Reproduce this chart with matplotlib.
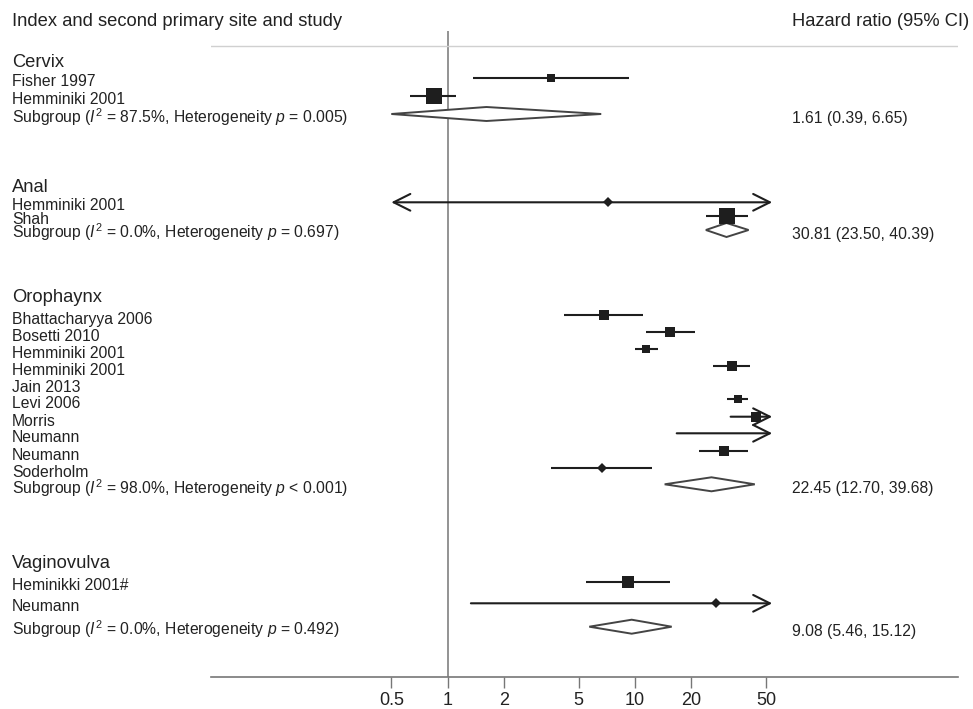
#!/usr/bin/env python3
"""
Forest plot: hazard ratio of second primary cancer by index site and study.
"""

import matplotlib
matplotlib.use('Agg')
import matplotlib.pyplot as plt
from matplotlib.patches import Polygon
from matplotlib.ticker import NullLocator
from matplotlib.transforms import blended_transform_factory

plt.rcParams['font.family'] = ['Liberation Sans', 'DejaVu Sans']
plt.rcParams['mathtext.fontset'] = 'custom'
plt.rcParams['mathtext.rm'] = 'Liberation Sans'
plt.rcParams['mathtext.it'] = 'Liberation Sans:italic'

# ---- data ----
groups = ['Cervix', 'Anal', 'Orophaynx', 'Vaginovulva']

study_group = [0, 0, 1, 1, 2, 2, 2, 2, 2, 2, 2, 2, 2, 2, 3, 3]
study_names = ['Fisher 1997', 'Hemminiki 2001',
               'Hemminiki 2001', 'Shah',
               'Bhattacharyya 2006', 'Bosetti 2010', 'Hemminiki 2001', 'Hemminiki 2001',
               'Jain 2013', 'Levi 2006', 'Morris', 'Neumann', 'Neumann', 'Soderholm',
               'Heminikki 2001#', 'Neumann']
study_hr = [3.56, 0.84,
            7.2, 30.9,
            6.83, 15.3, 11.5, 33.1,
            None, 35.6, 44.3, 60.0, 29.9, 6.64,
            9.2, 27.0]
study_lo = [1.37, 0.63,
            0.3, 23.9,
            4.19, 11.4, 10.0, 26.0,
            None, 31.1, 32.4, 16.7, 22.0, 3.55,
            5.5, 1.33]
study_hi = [9.3, 1.11,
            170.0, 40.0,
            11.1, 21.0, 13.2, 41.1,
            None, 40.3, 90.0, 200.0, 40.3, 12.4,
            15.3, 300.0]
# box size in pixels (study weight), 0 = point marker only
study_box = [9, 16,
             0, 17,
             10, 10, 9, 10,
             0, 8, 10, 0, 10, 0,
             13, 0]

sub_label = ['Subgroup ($\\mathit{I}^2$ = 87.5%, Heterogeneity $\\mathit{p}$ = 0.005)',
             'Subgroup ($\\mathit{I}^2$ = 0.0%, Heterogeneity $\\mathit{p}$ = 0.697)',
             'Subgroup ($\\mathit{I}^2$ = 98.0%, Heterogeneity $\\mathit{p}$ < 0.001)',
             'Subgroup ($\\mathit{I}^2$ = 0.0%, Heterogeneity $\\mathit{p}$ = 0.492)']
sub_text = ['1.61 (0.39, 6.65)', '30.81 (23.50, 40.39)',
            '22.45 (12.70, 39.68)', '9.08 (5.46, 15.12)']
# diamonds as drawn in the figure
sub_hr = [1.61, 30.8, 25.6, 9.6]
sub_lo = [0.39, 23.9, 14.4, 5.7]
sub_hi = [6.6, 40.4, 43.6, 15.7]

# ---- layout (pixel rows) ----
W, H = 973, 709
group_y = [62, 187, 297, 563]
row_y = [78.3, 96, 202.3, 215.7,
         315, 331.7, 349.3, 366.3, 383, 399.3, 416.7, 433.3, 450.7, 468,
         582.3, 603.3]
label_dy = [3.5, 3.5, 3.5, 4.0,
            4.5, 4.5, 4.5, 4.5, 4.5, 4.5, 4.5, 4.5, 4.5, 4.5,
            3.0, 3.0]
sub_y = [114, 230, 484.3, 626.7]
sub_dy = [3.5, 2.5, 3.5, 2.0]

CLIP_LO, CLIP_HI = 0.5, 54
ink = '#1e1e1e'
text_c = '#222222'

fig = plt.figure(figsize=(W / 100, H / 100), dpi=100)
ax_l, ax_r, ax_t, ax_b = 210.5, 958.3, 31, 677.3
ax = fig.add_axes([ax_l / W, 1 - ax_b / H, (ax_r - ax_l) / W, (ax_b - ax_t) / H])
ax.set_xscale('log')
x0, dec = 447.7, 187.3   # pixel of HR=1, pixels per decade
ax.set_xlim(10 ** ((ax_l - x0) / dec), 10 ** ((ax_r - x0) / dec))
ax.set_ylim(ax_b, ax_t)

tr = blended_transform_factory(fig.transFigure, ax.transData)

# reference lines
ax.axvline(1, color='#8a8a8a', lw=1.3, zorder=1)
ax.axhline(46, color='#d0d0d0', lw=1.0, zorder=1)

# headers
fig.text(12 / W, 1 - 22 / H, 'Index and second primary site and study',
         fontsize=13.2, color=text_c, va='center')
fig.text(792 / W, 1 - 22 / H, 'Hazard ratio (95% CI)',
         fontsize=13.2, color=text_c, va='center')

for g, name in enumerate(groups):
    ax.text(12 / W, group_y[g], name, transform=tr, fontsize=13.2,
            color=text_c, va='center', clip_on=False)

# studies
for i, name in enumerate(study_names):
    y = row_y[i]
    ax.text(12 / W, y + label_dy[i], name, transform=tr, fontsize=11.3,
            color=text_c, va='center', clip_on=False)
    lo, hi, hr = study_lo[i], study_hi[i], study_hr[i]
    if lo is None:
        continue
    lo_c, hi_c = max(lo, CLIP_LO), min(hi, CLIP_HI)
    if lo < CLIP_LO and hi > CLIP_HI:
        style = '<->'
    elif hi > CLIP_HI:
        style = '->'
    elif lo < CLIP_LO:
        style = '<-'
    else:
        style = None
    if style is None:
        ax.plot([lo_c, hi_c], [y, y], color=ink, lw=1.5, solid_capstyle='butt', zorder=3)
    else:
        ax.annotate('', xy=(hi_c, y), xytext=(lo_c, y),
                    arrowprops=dict(arrowstyle=style + ',head_length=0.6,head_width=0.3',
                                    lw=1.5, color=ink, shrinkA=0, shrinkB=0,
                                    mutation_scale=20), zorder=3)
    if hr < CLIP_LO or hr > CLIP_HI:
        continue
    if study_box[i] > 0:
        ax.plot(hr, y, 's', ms=study_box[i] / 1.389, color=ink, mec=ink, mew=0, zorder=4)
    else:
        ax.plot(hr, y, 'D', ms=5, color=ink, mec=ink, mew=0, zorder=4)

# subgroup diamonds
half_h = 7
for g in range(len(groups)):
    y = sub_y[g]
    ax.text(12 / W, y + sub_dy[g], sub_label[g], transform=tr, fontsize=11.3,
            color=text_c, va='center', clip_on=False)
    ax.text(792 / W, y + 4.5, sub_text[g], transform=tr, fontsize=11.3,
            color=text_c, va='center', clip_on=False)
    lo, hi = max(sub_lo[g], CLIP_LO), min(sub_hi[g], CLIP_HI)
    pts = [(lo, y), (sub_hr[g], y - half_h), (hi, y), (sub_hr[g], y + half_h)]
    ax.add_patch(Polygon(pts, closed=True, facecolor='white', edgecolor='#444444',
                         lw=1.4, zorder=3))

# x axis
ticks = [0.5, 1, 2, 5, 10, 20, 50]
ax.set_xticks(ticks)
ax.set_xticklabels(['0.5', '1', '2', '5', '10', '20', '50'])
ax.xaxis.set_minor_locator(NullLocator())
ax.tick_params(axis='x', direction='out', length=8, width=1, color='#777777',
               labelsize=13, labelcolor=text_c, pad=2.5)
ax.set_yticks([])
for side in ['left', 'right', 'top']:
    ax.spines[side].set_visible(False)
ax.spines['bottom'].set_color('#777777')
ax.spines['bottom'].set_linewidth(1.2)
ax.patch.set_alpha(0)

fig.savefig('out.png', dpi=100)
